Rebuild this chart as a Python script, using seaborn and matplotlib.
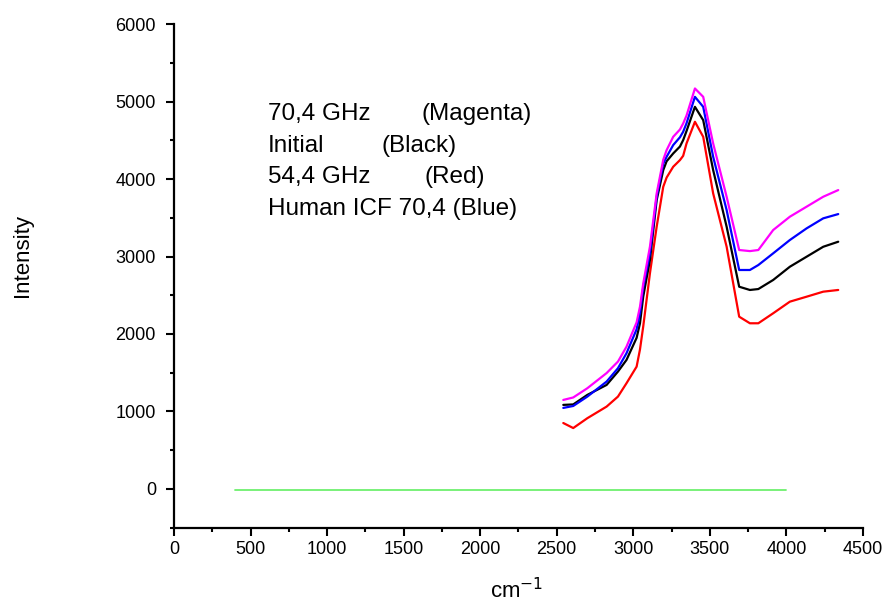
import numpy as np
import pandas as pd
import matplotlib
matplotlib.use("Agg")
import matplotlib.pyplot as plt
import seaborn as sns

# wavenumber points (cm-1)
wavenumber = [2543, 2608, 2700, 2826, 2900, 2956, 3022, 3044, 3065, 3109, 3153,
              3196, 3218, 3261, 3305, 3326, 3348, 3403, 3457, 3522, 3610, 3692,
              3762, 3817, 3914, 4023, 4132, 4241, 4339]

magenta = [1148, 1180, 1299, 1495, 1643, 1836, 2150, 2352, 2650, 3127, 3815,
           4250, 4374, 4546, 4640, 4718, 4820, 5170, 5062, 4460, 3772, 3084,
           3070, 3084, 3342, 3514, 3643, 3772, 3858]
black = [1084, 1090, 1213, 1342, 1514, 1665, 1950, 2138, 2480, 2955, 3729,
         4116, 4230, 4331, 4420, 4503, 4620, 4933, 4761, 4116, 3385, 2610,
         2568, 2580, 2697, 2868, 2997, 3126, 3191]
blue = [1045, 1070, 1191, 1385, 1557, 1751, 2060, 2267, 2600, 3041, 3772,
        4200, 4288, 4439, 4540, 4611, 4720, 5062, 4933, 4288, 3600, 2826,
        2826, 2890, 3041, 3213, 3363, 3493, 3548]
red = [850, 785, 912, 1062, 1191, 1364, 1578, 1800, 2094, 2783, 3385,
       3901, 4020, 4159, 4245, 4300, 4460, 4740, 4546, 3815, 3127, 2223,
       2138, 2138, 2267, 2417, 2481, 2546, 2568]

baseline_x = [400, 4000]
baseline_y = [-10, -10]

series = [("54,4 GHz", red, "#ff0000"),
          ("Initial", black, "#000000"),
          ("Human ICF 70,4", blue, "#0000ff"),
          ("70,4 GHz", magenta, "#ff00ff")]

legend_names = ["70,4 GHz", "Initial", "54,4 GHz", "Human ICF 70,4 (Blue)"]
legend_colors = ["(Magenta)", "(Black)", "(Red)", ""]

sns.set_style("ticks")
plt.rcParams["font.family"] = ["Liberation Sans", "DejaVu Sans"]
plt.rcParams["text.color"] = "black"
plt.rcParams["xtick.labelcolor"] = "black"
plt.rcParams["ytick.labelcolor"] = "black"

fig = plt.figure(figsize=(8.85, 6.05), dpi=100)
ax = fig.add_axes([0.1966, 0.128, 0.7784, 0.832])

sns.lineplot(x=baseline_x, y=baseline_y, color="#6ef06e", linewidth=1.3, ax=ax)
for name, vals, col in series:
    df = pd.DataFrame({"cm": wavenumber, "I": vals})
    sns.lineplot(data=df, x="cm", y="I", color=col, linewidth=1.6, ax=ax)

ax.set_xlim(0, 4500)
ax.set_ylim(-500, 6000)
ax.set_xticks(np.arange(0, 4501, 500))
ax.set_xticks(np.arange(250, 4500, 500), minor=True)
ax.set_yticks(np.arange(0, 6001, 1000))
ax.set_yticks(np.arange(-500, 6000, 1000), minor=True)
ax.tick_params(axis="both", which="major", labelsize=13, width=1.5, color="black",
               labelcolor="black")
ax.tick_params(axis="x", which="major", length=6, pad=4)
ax.tick_params(axis="y", which="major", length=6, pad=7)
ax.tick_params(axis="both", which="minor", width=1.5, length=3, color="black")
sns.despine(ax=ax)
for s in ["left", "bottom"]:
    ax.spines[s].set_linewidth(1.6)
    ax.spines[s].set_color("black")

ax.set_ylabel("Intensity", fontsize=16, color="black")
ax.yaxis.set_label_coords(-0.205, 0.541)
ax.set_xlabel("")
fig.text(517 / 885, 1 - 598 / 605, "cm$^{-1}$", fontsize=16, ha="center", va="baseline")

# text block used as legend
ys = [4761, 4352, 3948, 3535]
px = [1620, 1358, 1639, 0]
for i in range(4):
    ax.text(614, ys[i], legend_names[i], fontsize=17.5, va="baseline", ha="left")
    if legend_colors[i]:
        ax.text(px[i], ys[i], legend_colors[i], fontsize=17.5, va="baseline", ha="left")

fig.savefig("out.png", dpi=100)
